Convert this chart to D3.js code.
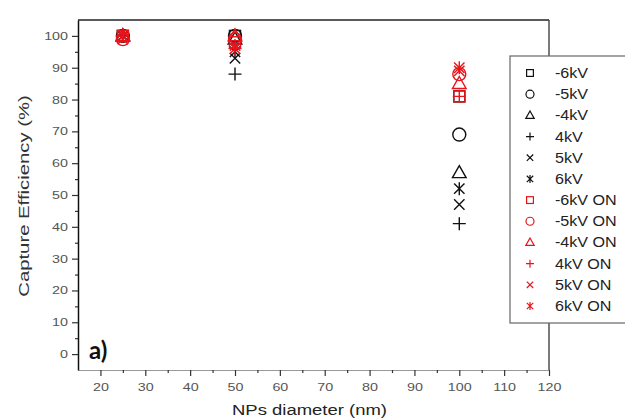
<!DOCTYPE html>
<html>
<head>
<meta charset="utf-8">
<script src="https://cdn.jsdelivr.net/npm/d3@7"></script>
<style>
  body { margin: 0; background: #fff; }
  svg { display: block; font-family: "Liberation Sans", Arial, sans-serif; }
</style>
</head>
<body>
<div id="chart"></div>
<script>
// diameters (nm) and capture efficiency (%) for every series
var diameters = [25, 50, 100];
var seriesNames = ["-6kV", "-5kV", "-4kV", "4kV", "5kV", "6kV",
                   "-6kV ON", "-5kV ON", "-4kV ON", "4kV ON", "5kV ON", "6kV ON"];
var vNeg6 = [100, 100, 81];
var vNeg5 = [100, 100, 69];
var vNeg4 = [100, 99, 57];
var vPos4 = [100, 88, 41];
var vPos5 = [100, 93, 47];
var vPos6 = [100, 95, 52];
var vNeg6On = [100, 98, 81];
var vNeg5On = [99, 99, 88];
var vNeg4On = [100, 100, 85];
var vPos4On = [100, 96, 81];
var vPos5On = [99, 96, 89];
var vPos6On = [100, 97, 90];
var xTicks = [20, 30, 40, 50, 60, 70, 80, 90, 100, 110, 120];
var yTicks = [0, 10, 20, 30, 40, 50, 60, 70, 80, 90, 100];

var allValues = [vNeg6, vNeg5, vNeg4, vPos4, vPos5, vPos6,
                 vNeg6On, vNeg5On, vNeg4On, vPos4On, vPos5On, vPos6On];
var shapes = ["square", "circle", "triangle", "plus", "cross", "star"];

var width = 625, height = 418;
var margin = { top: 20, right: 76, bottom: 48, left: 78 };

var svg = d3.select("#chart").append("svg")
    .attr("width", width)
    .attr("height", height);

var x = d3.scaleLinear().domain([15, 120]).range([margin.left, width - margin.right]);
var y = d3.scaleLinear().domain([-5, 105]).range([height - margin.bottom, margin.top]);

// the source picture is a bit stretched sideways, so widen text to match
function stretch(sel, k) {
    sel.each(function () {
        var w = this.getComputedTextLength();
        d3.select(this).attr("textLength", w * k).attr("lengthAdjust", "spacingAndGlyphs");
    });
}

// frame top + right
svg.append("line")
    .attr("x1", x(15)).attr("x2", x(120))
    .attr("y1", y(105)).attr("y2", y(105))
    .style("stroke", "#222").style("stroke-width", 1.5);
svg.append("line")
    .attr("x1", x(120)).attr("x2", x(120))
    .attr("y1", y(105)).attr("y2", y(-5))
    .style("stroke", "#333").style("stroke-width", 1.3);

// bottom axis
var xAxis = svg.append("g")
    .attr("transform", "translate(0," + y(-5) + ")")
    .call(d3.axisBottom(x).tickValues(xTicks).tickSize(6).tickSizeOuter(0).tickPadding(7));
svg.append("g")
    .attr("transform", "translate(0," + y(-5) + ")")
    .call(d3.axisBottom(x).tickValues(d3.range(25, 120, 10)).tickSize(3).tickFormat(""))
    .select(".domain").remove();
xAxis.select(".domain").style("stroke", "#999").style("stroke-width", 1.2);

// left axis
var yAxis = svg.append("g")
    .attr("transform", "translate(" + x(15) + ",0)")
    .call(d3.axisLeft(y).tickValues(yTicks).tickSize(6).tickSizeOuter(0).tickPadding(4));
svg.append("g")
    .attr("transform", "translate(" + x(15) + ",0)")
    .call(d3.axisLeft(y).tickValues(d3.range(5, 105, 10)).tickSize(3).tickFormat(""))
    .select(".domain").remove();
yAxis.select(".domain").style("stroke", "#111").style("stroke-width", 1.5);

svg.selectAll(".tick line").style("stroke", "#333").style("stroke-width", 1.2);
svg.selectAll(".tick text")
    .style("font-size", "11px")
    .style("fill", "#555")
    .style("font-family", "Liberation Sans, Arial, sans-serif")
    .call(stretch, 1.3);

// axis titles
svg.append("text")
    .attr("x", (x(15) + x(120)) / 2 - 4)
    .attr("y", 415)
    .attr("text-anchor", "middle")
    .style("font-size", "14px")
    .style("fill", "#222")
    .text("NPs diameter (nm)")
    .call(stretch, 1.32);
svg.append("text")
    .attr("transform", "translate(29," + ((y(-5) + y(105)) / 2 + 1) + ") rotate(-90)")
    .attr("text-anchor", "middle")
    .style("font-size", "14px")
    .style("fill", "#333")
    .text("Capture Efficiency (%)")
    .call(stretch, 1.45);

// panel label
svg.append("text")
    .attr("x", 89)
    .attr("y", 359)
    .style("font-family", "Lato, sans-serif")
    .style("font-weight", "bold")
    .style("font-size", "24px")
    .style("fill", "#111")
    .text("a)");

// draw a marker shape centred at (cx, cy)
function drawMarker(g, shape, cx, cy, r, color, sw) {
    if (shape == "square") {
        g.append("rect").attr("x", cx - r * 0.85).attr("y", cy - r * 0.85)
            .attr("width", 1.7 * r).attr("height", 1.7 * r)
            .style("fill", "none").style("stroke", color).style("stroke-width", sw);
    } else if (shape == "circle") {
        g.append("circle").attr("cx", cx).attr("cy", cy).attr("r", r)
            .style("fill", "none").style("stroke", color).style("stroke-width", sw);
    } else if (shape == "triangle") {
        g.append("path")
            .attr("d", "M" + cx + "," + (cy - r * 1.1) + "L" + (cx + r * 1.05) + "," + (cy + r * 0.75) +
                "L" + (cx - r * 1.05) + "," + (cy + r * 0.75) + "Z")
            .style("fill", "none").style("stroke", color).style("stroke-width", sw);
    } else {
        var p = "";
        if (shape == "plus" || shape == "star") {
            p += "M" + cx + "," + (cy - r) + "V" + (cy + r);
        }
        if (shape == "plus") {
            p += "M" + (cx - r) + "," + cy + "H" + (cx + r);
        }
        if (shape == "cross" || shape == "star") {
            var d = r * 0.8;
            p += "M" + (cx - d) + "," + (cy - d) + "L" + (cx + d) + "," + (cy + d);
            p += "M" + (cx - d) + "," + (cy + d) + "L" + (cx + d) + "," + (cy - d);
        }
        g.append("path").attr("d", p)
            .style("fill", "none").style("stroke", color).style("stroke-width", sw);
    }
}

// data points
var marks = svg.append("g");
allValues.forEach(function (vals, i) {
    var color = i < 6 ? "#111" : "#e8141c";
    vals.forEach(function (v, j) {
        drawMarker(marks, shapes[i % 6], x(diameters[j]), y(v), 6.5, color, 1.4);
    });
});

// legend
var legend = svg.append("g");
legend.append("rect")
    .attr("x", 510).attr("y", 56)
    .attr("width", 140).attr("height", 267)
    .style("fill", "#fff").style("stroke", "#666").style("stroke-width", 1.2);

var rowY = d3.scaleLinear().domain([0, 11]).range([73, 306]);
seriesNames.forEach(function (name, i) {
    var color = i < 6 ? "#111" : "#e8141c";
    drawMarker(legend, shapes[i % 6], 530, rowY(i), 4, color, 1.2);
    legend.append("text")
        .attr("x", 555)
        .attr("y", rowY(i) + 5)
        .style("font-size", "14px")
        .style("fill", "#222")
        .text(name)
        .call(stretch, 1.15);
});
</script>
</body>
</html>
